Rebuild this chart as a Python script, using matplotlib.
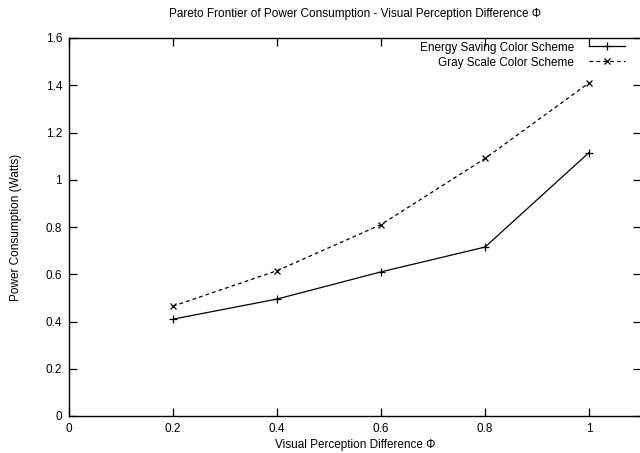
import matplotlib
matplotlib.use("Agg")
import matplotlib.pyplot as plt

plt.rcParams['font.family'] = ['Liberation Sans', 'DejaVu Sans']

# valeurs
phi = [0.2, 0.4, 0.6, 0.8, 1.0]
energySaving = [0.41, 0.495, 0.61, 0.715, 1.115]
grayScale = [0.465, 0.615, 0.81, 1.09, 1.41]

xTicks = [0, 0.2, 0.4, 0.6, 0.8, 1]
xTickLabels = ["0", "0.2", "0.4", "0.6", "0.8", "1"]
yTicks = [0, 0.2, 0.4, 0.6, 0.8, 1, 1.2, 1.4, 1.6]
yTickLabels = ["0", "0.2", "0.4", "0.6", "0.8", "1", "1.2", "1.4", "1.6"]

fig = plt.figure(figsize=(6.4, 4.53), dpi=100)
ax = fig.add_axes([69 / 640, 1 - 416 / 453, (641 - 69) / 640, (416 - 38) / 453])

ax.plot(phi, energySaving, color="black", lw=0.9, marker="+", markersize=6,
        markeredgewidth=0.9, label="Energy Saving Color Scheme")
ax.plot(phi, grayScale, color="black", lw=0.9, ls=(0, (3, 2.5)), marker="x",
        markersize=4.5, markeredgewidth=0.9, label="Gray Scale Color Scheme")

ax.set_xlim(0, 1.1)
ax.set_ylim(0, 1.6)
ax.set_xticks(xTicks)
ax.set_xticklabels(xTickLabels)
ax.set_yticks(yTicks)
ax.set_yticklabels(yTickLabels)
ax.tick_params(direction="in", length=6, width=0.9, top=True, right=True,
               labelsize=8.5, pad=5)
for s in ax.spines.values():
    s.set_linewidth(1.0)

ax.set_xlabel("Visual Perception Difference \u03a6", fontsize=8.5, labelpad=3)
ax.set_ylabel("Power Consumption (Watts)", fontsize=8.5, labelpad=17)
ax.set_title("Pareto Frontier of Power Consumption - Visual Perception Difference \u03a6",
             fontsize=8.5, pad=15)

ax.legend(loc="upper right", frameon=False, markerfirst=False, fontsize=8.5,
          handlelength=3.0, handletextpad=1.3, labelspacing=0.25,
          borderaxespad=0.0, bbox_to_anchor=(0.98, 1.003))

fig.savefig("out.png", dpi=100)
